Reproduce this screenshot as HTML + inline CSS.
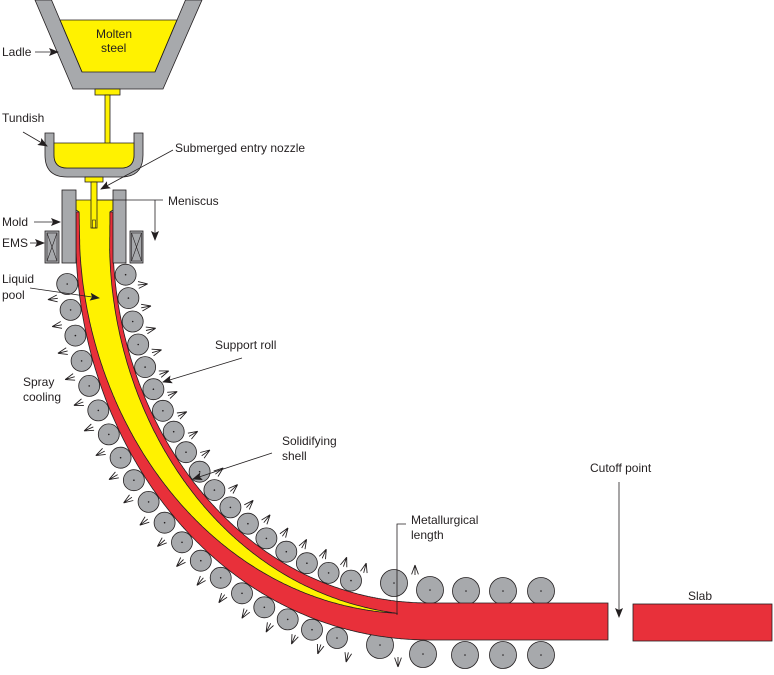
<!DOCTYPE html>
<html><head><meta charset="utf-8"><style>
html,body{margin:0;padding:0;background:#fff;}
svg{display:block;}
text{font-family:"Liberation Sans",Arial,sans-serif;font-size:12px;fill:#231f20;}
</style></head><body>
<svg id="g" width="774" height="675" viewBox="0 0 774 675" xmlns="http://www.w3.org/2000/svg">
<defs>
<marker id="ah" markerWidth="10" markerHeight="8" refX="9" refY="4" orient="auto" markerUnits="userSpaceOnUse">
<path d="M0,0 L10,4 L0,8 L2,4 Z" fill="#231f20"/></marker>
</defs>
<g id="back"></g>
<polygon points="35,0 202,0 163,89 73,89" fill="#a7a9ac" stroke="#231f20" stroke-width="0.8"/>
<polygon points="51.5,0 185.5,0 155,72 82,72" fill="#fff" stroke="none"/>
<polygon points="60,20 177,20 155,72 82,72" fill="#fff200" stroke="#231f20" stroke-width="0.8"/>
<line x1="51.5" y1="0" x2="82" y2="72" stroke="#231f20" stroke-width="0.8"/>
<line x1="185.5" y1="0" x2="155" y2="72" stroke="#231f20" stroke-width="0.8"/>
<rect x="95" y="89" width="25" height="6" fill="#fff200" stroke="#231f20" stroke-width="0.8"/>
<rect x="105" y="95" width="5" height="50" fill="#fff200" stroke="#231f20" stroke-width="0.8"/>
<path d="M45,133 H54 V155 Q54,168 67,168 H121 Q134,168 134,155 V133 H143 V155 Q143,177 121,177 H67 Q45,177 45,155 Z" fill="#a7a9ac" stroke="#231f20" stroke-width="0.8"/>
<path d="M54,143 H134 V155 Q134,168 121,168 H67 Q54,168 54,155 Z" fill="#fff200" stroke="#231f20" stroke-width="0.8"/>
<rect x="85" y="177" width="18" height="5" fill="#fff200" stroke="#231f20" stroke-width="0.8"/>
<g id="strand"></g>
<rect x="91" y="182" width="6" height="46" fill="#fff200" stroke="#231f20" stroke-width="0.8"/>
<rect x="92.5" y="220" width="3" height="8" fill="none" stroke="#231f20" stroke-width="0.6"/>
<rect x="62" y="190" width="14" height="73" fill="#a7a9ac" stroke="#231f20" stroke-width="0.8"/>
<rect x="113" y="190" width="13" height="73" fill="#a7a9ac" stroke="#231f20" stroke-width="0.8"/>
<g fill="#a7a9ac" stroke="#231f20" stroke-width="0.8">
<rect x="45" y="231" width="14" height="32"/><rect x="130" y="231" width="13" height="32"/></g>
<g stroke="#231f20" stroke-width="0.6" fill="none">
<rect x="47" y="233" width="10" height="28"/><path d="M47,233 L57,261 M57,233 L47,261"/>
<rect x="131.5" y="233" width="10" height="28"/><path d="M131.5,233 L141.5,261 M141.5,233 L131.5,261"/></g>
<rect x="633" y="604" width="139" height="37" fill="#e8303a" stroke="#231f20" stroke-width="0.8"/>
<text x="96" y="38">Molten</text><text x="101" y="52">steel</text>
<text x="2" y="56">Ladle</text>
<line x1="35" y1="52" x2="58" y2="52" stroke="#231f20" stroke-width="0.8" marker-end="url(#ah)"/>
<text x="2" y="122">Tundish</text>
<line x1="23" y1="132" x2="47" y2="146" stroke="#231f20" stroke-width="0.8" marker-end="url(#ah)"/>
<text x="175" y="152">Submerged entry nozzle</text>
<line x1="173" y1="150" x2="101" y2="189" stroke="#231f20" stroke-width="0.8" marker-end="url(#ah)"/>
<text x="168" y="205">Meniscus</text>
<line x1="97" y1="200" x2="163" y2="200" stroke="#231f20" stroke-width="0.8"/>
<line x1="155" y1="200" x2="155" y2="240" stroke="#231f20" stroke-width="0.8" marker-end="url(#ah)"/>
<text x="2" y="226">Mold</text>
<line x1="34" y1="222" x2="60" y2="222" stroke="#231f20" stroke-width="0.8" marker-end="url(#ah)"/>
<text x="2" y="247">EMS</text>
<line x1="30" y1="243" x2="44" y2="243" stroke="#231f20" stroke-width="0.8" marker-end="url(#ah)"/>
<text x="2" y="283">Liquid</text><text x="2" y="299">pool</text>
<line x1="30" y1="288" x2="99" y2="298" stroke="#231f20" stroke-width="0.8" marker-end="url(#ah)"/>
<text x="23" y="386">Spray</text><text x="23" y="401">cooling</text>
<text x="215" y="349">Support roll</text>
<line x1="242" y1="358" x2="163" y2="382" stroke="#231f20" stroke-width="0.8" marker-end="url(#ah)"/>
<text x="282" y="445">Solidifying</text><text x="282" y="460">shell</text>
<line x1="272" y1="453" x2="193" y2="479" stroke="#231f20" stroke-width="0.8" marker-end="url(#ah)"/>
<text x="411" y="524">Metallurgical</text><text x="411" y="539">length</text>
<path d="M406,524 H397 V615" fill="none" stroke="#231f20" stroke-width="0.8"/>
<text x="590" y="472">Cutoff point</text>
<line x1="619" y1="482" x2="619" y2="617" stroke="#231f20" stroke-width="0.8" marker-end="url(#ah)"/>
<text x="688" y="600">Slab</text>
</svg>
<script>
(function(){
const NS='http://www.w3.org/2000/svg';
function el(par,t,a){const e=document.createElementNS(NS,t);for(const k in a)e.setAttribute(k,a[k]);document.getElementById(par).appendChild(e);return e;}
let P=[];
for(let y=200;y<250;y+=1)P.push([76,y]);
const B=[[76,250],[82,455],[225,640],[430,640]];
for(let i=0;i<=400;i++){const t=i/400,u=1-t;
P.push([u*u*u*B[0][0]+3*u*u*t*B[1][0]+3*u*t*t*B[2][0]+t*t*t*B[3][0],
u*u*u*B[0][1]+3*u*u*t*B[1][1]+3*u*t*t*B[2][1]+t*t*t*B[3][1]]);}
for(let x=431;x<=608;x++)P.push([x,640]);
const S=[0],N=[];
for(let i=1;i<P.length;i++)S.push(S[i-1]+Math.hypot(P[i][0]-P[i-1][0],P[i][1]-P[i-1][1]));
for(let i=0;i<P.length;i++){const a=P[Math.max(0,i-1)],b=P[Math.min(P.length-1,i+1)];
let tx=b[0]-a[0],ty=b[1]-a[1],l=Math.hypot(tx,ty);tx/=l;ty/=l;N.push([ty,-tx]);}
function at(s){let i=0;while(i<S.length-2&&S[i+1]<s)i++;const f=(s-S[i])/((S[i+1]-S[i])||1);
return {p:[P[i][0]+(P[i+1][0]-P[i][0])*f,P[i][1]+(P[i+1][1]-P[i][1])*f],n:N[i]};}
function off(o,d){return [o.p[0]+o.n[0]*d,o.p[1]+o.n[1]*d];}
const W=37;
let sEnd=0;for(let i=0;i<P.length;i++){if(P[i][0]>=395){sEnd=S[i];break;}}
let pts=[];const s0=12;
for(let i=0;i<P.length;i++)if(S[i]>=s0)pts.push(P[i]);
let inn=[];for(let i=P.length-1;i>=0;i--)if(S[i]>=s0)inn.push([P[i][0]+N[i][0]*W,P[i][1]+N[i][1]*W]);
el('strand','polygon',{points:pts.concat(inn).map(p=>p[0].toFixed(1)+','+p[1].toFixed(1)).join(' '),fill:'#e8303a',stroke:'#231f20','stroke-width':0.8});
let ya=[],yb=[];
for(let s=0;s<=sEnd;s+=2){const o=at(s);const f=Math.pow(s/sEnd,1.3);
const to=(s<s0?0:3)+22*f, ti=(s<s0?0:3)+9*f;
ya.push(off(o,Math.min(to,25)));yb.unshift(off(o,Math.max(W-ti,25)));}
el('strand','polygon',{points:ya.concat(yb).map(p=>p[0].toFixed(1)+','+p[1].toFixed(1)).join(' '),fill:'#fff200',stroke:'#231f20','stroke-width':0.8});
function roll(c,r){el('back','circle',{cx:c[0].toFixed(1),cy:c[1].toFixed(1),r:r,fill:'#a7a9ac',stroke:'#231f20','stroke-width':0.8});
el('back','circle',{cx:c[0].toFixed(1),cy:c[1].toFixed(1),r:0.8,fill:'#231f20'});}
function spray(apex,dir){
const L=10;let d='';
for(const ang of [-0.35,0,0.35]){const c=Math.cos(ang),s=Math.sin(ang);
const vx=dir[0]*c-dir[1]*s,vy=dir[0]*s+dir[1]*c;
d+='M'+apex[0].toFixed(1)+','+apex[1].toFixed(1)+' l'+(vx*L).toFixed(1)+','+(vy*L).toFixed(1)+' ';}
el('back','path',{d:d,fill:'none',stroke:'#231f20','stroke-width':0.9});}
function place(sStart,d,minDist,xmax){let res=[],last=null;
for(let s=sStart;s<S[S.length-1];s+=0.5){const c=off(at(s),d);
if(last&&Math.hypot(c[0]-last[0],c[1]-last[1])<minDist)continue;
if(c[0]>xmax)break;res.push(s);last=c;}return res;}
const R=10.5;
const outS=place(83,-11,26,360);
outS.forEach(s=>roll(off(at(s),-11),R));
for(let k=0;k<outS.length;k++){const s=k<outS.length-1?(outS[k]+outS[k+1])/2:outS[k]+14;const o=at(s);spray(off(o,-32),o.n);}
const inS=place(79,W+11,23.5,372);
inS.forEach(s=>roll(off(at(s),W+11),R));
for(let k=0;k<inS.length;k++){const s=k<inS.length-1?(inS[k]+inS[k+1])/2:inS[k]+12;const o=at(s);spray(off(o,W+32),[-o.n[0],-o.n[1]]);}
[[394,583],[430,590],[466,591],[503,591],[541,591]].forEach(c=>roll(c,13.5));
[[380,645],[423,654],[465,655],[503,655],[541,655]].forEach(c=>roll(c,13.5));
spray([415,565],[0,1]);spray([398,667],[0,-1]);
})();
</script>
</body></html>
